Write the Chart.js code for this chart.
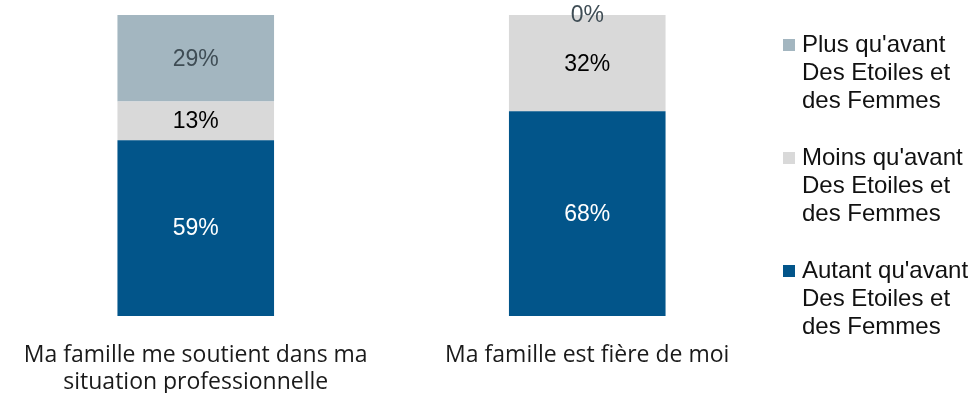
<!DOCTYPE html>
<html>
<head>
<meta charset="utf-8">
<script src="https://cdn.jsdelivr.net/npm/chart.js@4"></script>
<style>
  html, body { margin: 0; padding: 0; background: #fff; }
  #wrap { width: 979px; height: 393px; }
</style>
</head>
<body>
<div id="wrap"><canvas id="chart" width="979" height="393"></canvas></div>
<script>
const categories = [
    ["Ma famille me soutient dans ma", "situation professionnelle"],
    "Ma famille est fière de moi"
]
const autant = [59, 68]
const moins = [13, 32]
const plus = [29, 0]

const seriesNames = [
    ["Autant qu'avant", "Des Etoiles et", "des Femmes"],
    ["Moins qu'avant", "Des Etoiles et", "des Femmes"],
    ["Plus qu'avant", "Des Etoiles et", "des Femmes"]
]
const colors = ["#02558A", "#D9D9D9", "#A3B6C0"]
const labelColors = ["#ffffff", "#000000", "#3F4D55"]

// 100% stacked: each column is scaled to its own total
const totals = autant.map((v, i) => v + moins[i] + plus[i])
const share = arr => arr.map((v, i) => v / totals[i] * 100)
const raw = [autant, moins, plus]

const valueLabels = {
    id: "valueLabels",
    afterDatasetsDraw(chart) {
        const ctx = chart.ctx
        ctx.save()
        ctx.font = "23px 'Liberation Sans', Arial, sans-serif"
        ctx.textAlign = "center"
        ctx.textBaseline = "middle"
        chart.data.datasets.forEach((ds, di) => {
            chart.getDatasetMeta(di).data.forEach((bar, i) => {
                ctx.fillStyle = labelColors[di]
                ctx.fillText(raw[di][i] + "%", bar.x, (bar.y + bar.base) / 2 + 1)
            })
        })
        ctx.restore()
    }
}

// legend with wrapped entries, top series first
const sideLegend = {
    id: "sideLegend",
    afterDraw(chart) {
        const ctx = chart.ctx
        ctx.save()
        ctx.font = "24px 'Liberation Sans', Arial, sans-serif"
        ctx.textBaseline = "alphabetic"
        ctx.textAlign = "left"
        let y = 52
        for (let di = seriesNames.length - 1; di >= 0; di--) {
            ctx.fillStyle = colors[di]
            ctx.fillRect(783, y - 13, 12, 12)
            ctx.fillStyle = "#111"
            seriesNames[di].forEach((line, k) => {
                ctx.fillText(line, 802, y + k * 28)
            })
            y += 113
        }
        ctx.restore()
    }
}

new Chart(document.getElementById("chart"), {
    type: "bar",
    data: {
        labels: categories,
        datasets: [
            { label: seriesNames[0].join(" "), data: share(autant), backgroundColor: colors[0] },
            { label: seriesNames[1].join(" "), data: share(moins), backgroundColor: colors[1] },
            { label: seriesNames[2].join(" "), data: share(plus), backgroundColor: colors[2] }
        ]
    },
    options: {
        responsive: false,
        animation: false,
        layout: { padding: { top: 15, right: 196, left: -3, bottom: 0 } },
        datasets: { bar: { barPercentage: 0.4, categoryPercentage: 1 } },
        plugins: {
            legend: { display: false },
            tooltip: { enabled: false }
        },
        scales: {
            x: {
                stacked: true,
                grid: { display: false },
                border: { display: false },
                ticks: {
                    color: "#1a1a1a",
                    padding: 18,
                    font: { family: "'Open Sans', sans-serif", size: 23, lineHeight: 1.17 }
                },
                afterFit(scale) { scale.height = 77 }
            },
            y: {
                stacked: true,
                display: false,
                min: 0,
                max: 100
            }
        }
    },
    plugins: [valueLabels, sideLegend]
})
</script>
</body>
</html>
